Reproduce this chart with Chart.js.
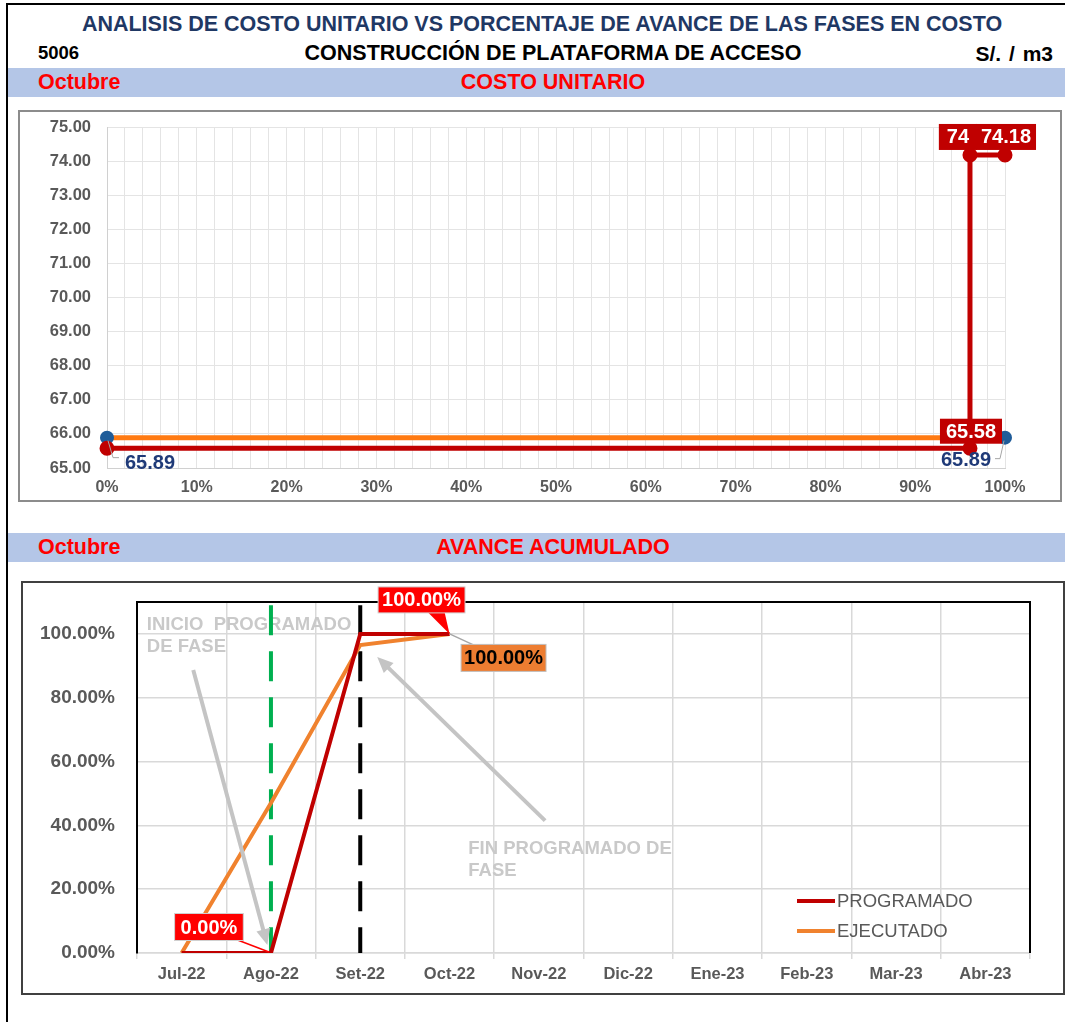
<!DOCTYPE html>
<html>
<head>
<meta charset="utf-8">
<script src="https://cdn.jsdelivr.net/npm/chart.js@4.4.0/dist/chart.umd.min.js"></script>
<style>
body{margin:0;width:1065px;height:1022px;position:relative;background:#fff;overflow:hidden;font-family:"Liberation Sans",Arial,sans-serif}
.t{position:absolute;font-weight:bold;white-space:nowrap;line-height:1}
.band{position:absolute;left:8px;width:1057px;height:29px;background:#B4C6E7}
.frame{position:absolute;left:6px;top:3px;width:1100px;height:1100px;border-left:2px solid #000;border-top:2px solid #000}
canvas{position:absolute}
</style>
</head>
<body>
<div class="frame"></div>
<div class="t" style="left:0;width:1084px;text-align:center;top:14px;font-size:21.5px;color:#1F3864">ANALISIS DE COSTO UNITARIO VS PORCENTAJE DE AVANCE DE LAS FASES EN COSTO</div>
<div class="t" style="left:38px;top:44px;font-size:18.5px;color:#000">5006</div>
<div class="t" style="left:0;width:1106px;text-align:center;top:43px;font-size:21.5px;color:#000">CONSTRUCCIÓN DE PLATAFORMA DE ACCESO</div>
<div class="t" style="right:12px;top:43px;font-size:21px;color:#000;word-spacing:2px">S/. / m3</div>
<div class="band" style="top:68px"></div>
<div class="t" style="left:38px;top:72px;font-size:21.5px;color:#FF0000">Octubre</div>
<div class="t" style="left:0;width:1106px;text-align:center;top:72px;font-size:21.5px;color:#FF0000">COSTO UNITARIO</div>
<div class="band" style="top:533px"></div>
<div class="t" style="left:38px;top:537px;font-size:21.5px;color:#FF0000">Octubre</div>
<div class="t" style="left:0;width:1106px;text-align:center;top:537px;font-size:21.5px;color:#FF0000">AVANCE ACUMULADO</div>

<canvas id="c1" width="1040" height="388" style="left:20px;top:112px;width:1040px;height:388px;outline:2px solid #8C8C8C"></canvas>
<canvas id="c2" width="1040" height="410" style="left:23px;top:583px;width:1040px;height:410px;outline:2px solid #404040"></canvas>

<script>
// ---- datos costo unitario
const avanceProg = [0, 0.961, 0.961, 1.0];
const costoProg = [65.58, 65.58, 74.18, 74.18];
const avanceEjec = [0, 1.0];
const costoEjec = [65.89, 65.89];

// ---- datos avance acumulado
const meses = ['Jul-22', 'Ago-22', 'Set-22', 'Oct-22', 'Nov-22', 'Dic-22', 'Ene-23', 'Feb-23', 'Mar-23', 'Abr-23'];
const programado = [0, 0, 1.0, 1.0, null, null, null, null, null, null];
const ejecutado = [0, 0.47, 0.965, 1.0, null, null, null, null, null, null];
const inicioFase = 'Ago-22';
const finFase = 'Set-22';

const GRIS = '#595959';
const F = '"Liberation Sans", Arial, sans-serif';

function caja(ctx, txt, cx, cy, font, bg, fg, h, pad, borde) {
  ctx.save();
  ctx.font = font;
  const w = ctx.measureText(txt).width + pad;
  if (bg) {
    ctx.fillStyle = bg;
    ctx.fillRect(cx - w / 2, cy - h / 2, w, h);
    if (borde) { ctx.strokeStyle = borde; ctx.lineWidth = 1; ctx.strokeRect(cx - w / 2, cy - h / 2, w, h); }
  }
  ctx.fillStyle = fg;
  ctx.textAlign = 'center';
  ctx.textBaseline = 'middle';
  ctx.fillText(txt, cx, cy + 1);
  ctx.restore();
}

function linea(ctx, pts, color, w) {
  ctx.save();
  ctx.strokeStyle = color; ctx.lineWidth = w;
  ctx.beginPath();
  pts.forEach((p, i) => i ? ctx.lineTo(p[0], p[1]) : ctx.moveTo(p[0], p[1]));
  ctx.stroke();
  ctx.restore();
}

function flecha(ctx, x0, y0, x1, y1) {
  const a = Math.atan2(y1 - y0, x1 - x0);
  const L = 16;
  ctx.save();
  ctx.strokeStyle = '#C4C4C4'; ctx.fillStyle = '#C4C4C4'; ctx.lineWidth = 4;
  ctx.beginPath(); ctx.moveTo(x0, y0);
  ctx.lineTo(x1 - Math.cos(a) * L * 0.8, y1 - Math.sin(a) * L * 0.8); ctx.stroke();
  ctx.beginPath();
  ctx.moveTo(x1, y1);
  ctx.lineTo(x1 - L * Math.cos(a) + 7 * Math.sin(a), y1 - L * Math.sin(a) - 7 * Math.cos(a));
  ctx.lineTo(x1 - L * Math.cos(a) - 7 * Math.sin(a), y1 - L * Math.sin(a) + 7 * Math.cos(a));
  ctx.closePath(); ctx.fill();
  ctx.restore();
}

// quita el relleno extra que chart.js deja por las etiquetas del eje
const sinRelleno = w => s => { s.width = w; s.paddingTop = 0; s.paddingBottom = 0; };

// ---------------- grafico 1
const etiquetas1 = {
  id: 'etiquetas1',
  afterDatasetsDraw(chart) {
    const ctx = chart.ctx;
    const p = chart.getDatasetMeta(0).data;
    const e = chart.getDatasetMeta(1).data;
    const fb = 'bold 20px ' + F;
    // guias grises
    linea(ctx, [[e[0].x + 1, e[0].y + 3], [e[0].x + 6, e[0].y + 20], [e[0].x + 12, e[0].y + 20]], '#A6A6A6', 1);
    linea(ctx, [[e[1].x - 1, e[1].y + 3], [e[1].x - 5, e[1].y + 21], [e[1].x - 10, e[1].y + 21]], '#A6A6A6', 1);
    caja(ctx, costoEjec[0].toFixed(2), e[0].x + 43, e[0].y + 25, fb, null, '#1F3A78', 26, 0);
    caja(ctx, costoEjec[1].toFixed(2), e[1].x - 39, e[1].y + 22, fb, null, '#1F3A78', 26, 0);
    caja(ctx, costoProg[1].toFixed(2), p[1].x + 1, p[1].y - 17, fb, '#C00000', '#fff', 25, 12);
    caja(ctx, Math.round(costoProg[2]).toString(), p[2].x - 12, p[2].y - 18, fb, '#C00000', '#fff', 26, 16);
    caja(ctx, costoProg[3].toFixed(2), p[3].x + 1, p[3].y - 18, fb, '#C00000', '#fff', 26, 10);
  }
};

new Chart(document.getElementById('c1'), {
  type: 'scatter',
  data: {
    datasets: [
      {
        label: 'PROGRAMADO',
        data: avanceProg.map((x, i) => ({ x, y: costoProg[i] })),
        showLine: true, borderColor: '#C00000', borderWidth: 5, clip: false,
        pointRadius: 5, pointBackgroundColor: '#C00000', pointBorderColor: '#C00000'
      },
      {
        label: 'EJECUTADO',
        data: avanceEjec.map((x, i) => ({ x, y: costoEjec[i] })),
        showLine: true, borderColor: '#FF7A12', borderWidth: 5, clip: false,
        pointRadius: 4.5, pointBackgroundColor: '#1F5C99', pointBorderColor: '#1F5C99'
      }
    ]
  },
  options: {
    animation: false, responsive: false,
    layout: { padding: { top: 15, right: 55, left: 0, bottom: 0 } },
    plugins: { legend: { display: false }, tooltip: { enabled: false } },
    scales: {
      x: {
        type: 'linear', min: 0, max: 1,
        afterFit: s => { s.height = 32; },
        grid: { color: '#E4E4E4', drawTicks: false },
        border: { color: '#D0D0D0' },
        ticks: {
          stepSize: 0.02, autoSkip: false, maxRotation: 0, padding: 10,
          color: GRIS, font: { family: F, size: 16, weight: 'bold' },
          callback: v => (Math.round(v * 100) % 10 === 0 ? Math.round(v * 100) + '%' : '')
        }
      },
      y: {
        min: 65, max: 75,
        afterFit: sinRelleno(87),
        grid: { color: '#E4E4E4', drawTicks: false },
        border: { color: '#D0D0D0' },
        ticks: {
          stepSize: 1, padding: 16, color: GRIS,
          font: { family: F, size: 16.5, weight: 'bold' },
          callback: v => v.toFixed(2)
        }
      }
    }
  },
  plugins: [etiquetas1]
});

// ---------------- grafico 2
const extras2 = {
  id: 'extras2',
  beforeDatasetsDraw(chart) {
    const ctx = chart.ctx, x = chart.scales.x, y = chart.scales.y;
    // textos de anotacion
    ctx.save();
    ctx.font = 'bold 18.5px ' + F;
    ctx.fillStyle = '#C9C9C9';
    ctx.textBaseline = 'middle';
    ctx.fillText('INICIO  PROGRAMADO', x.getPixelForValue(-0.39), y.getPixelForValue(1.028));
    ctx.fillText('DE FASE', x.getPixelForValue(-0.39), y.getPixelForValue(0.958));
    ctx.fillText('FIN PROGRAMADO DE', x.getPixelForValue(3.21), y.getPixelForValue(0.327));
    ctx.fillText('FASE', x.getPixelForValue(3.21), y.getPixelForValue(0.258));
    ctx.restore();
    // lineas de inicio y fin
    [[inicioFase, '#00B050'], [finFase, '#000000']].forEach(([m, c]) => {
      const px = x.getPixelForValue(meses.indexOf(m));
      ctx.save();
      ctx.strokeStyle = c; ctx.lineWidth = 4; ctx.setLineDash([30, 16]);
      ctx.beginPath();
      ctx.moveTo(px, y.getPixelForValue(1.09)); ctx.lineTo(px, y.getPixelForValue(0));
      ctx.stroke();
      ctx.restore();
    });
  },
  afterDatasetsDraw(chart) {
    const ctx = chart.ctx, x = chart.scales.x, y = chart.scales.y, a = chart.chartArea;
    // borde superior y derecho
    linea(ctx, [[a.left, a.top], [a.right, a.top], [a.right, a.bottom]], '#000', 2);
    // flechas
    flecha(ctx, x.getPixelForValue(0.13), y.getPixelForValue(0.887), x.getPixelForValue(0.96), y.getPixelForValue(0.025));
    flecha(ctx, x.getPixelForValue(4.07), y.getPixelForValue(0.415), x.getPixelForValue(2.19), y.getPixelForValue(0.928));
    // etiquetas
    const p = chart.getDatasetMeta(0).data;
    const e = chart.getDatasetMeta(1).data;
    const fb = 'bold 20px ' + F;
    const pct = v => (v * 100).toFixed(2) + '%';
    linea(ctx, [[p[1].x - 36, p[1].y - 14], [p[1].x - 2, p[1].y - 1]], '#FF0000', 1.5);
    caja(ctx, pct(programado[1]), p[1].x - 62, p[1].y - 26, fb, '#FF0000', '#fff', 27, 12, '#D0D0D0');
    // globo con punta
    ctx.save();
    ctx.fillStyle = '#FF0000';
    ctx.beginPath();
    ctx.moveTo(p[3].x - 22, p[3].y - 22); ctx.lineTo(p[3].x - 5, p[3].y - 22); ctx.lineTo(p[3].x, p[3].y);
    ctx.closePath(); ctx.fill();
    ctx.restore();
    caja(ctx, pct(programado[3]), p[3].x - 28, p[3].y - 34, fb, '#FF0000', '#fff', 26, 8, '#D0D0D0');
    linea(ctx, [[e[3].x, e[3].y], [e[3].x + 26, e[3].y + 12]], '#A6A6A6', 1.5);
    caja(ctx, pct(ejecutado[3]), e[3].x + 54, e[3].y + 24, fb, '#ED7D31', '#000', 27, 6, '#C0C0C0');
    // leyenda
    ctx.save();
    ctx.font = '18.5px ' + F;
    ctx.textBaseline = 'middle';
    chart.data.datasets.forEach((d, i) => {
      const ly = a.bottom - 52 + i * 30, lx = a.right - 233;
      linea(ctx, [[lx, ly], [lx + 38, ly]], d.borderColor, 4);
      ctx.fillStyle = GRIS;
      ctx.fillText(d.label, lx + 40, ly + 1);
    });
    ctx.restore();
  }
};

new Chart(document.getElementById('c2'), {
  type: 'line',
  data: {
    labels: meses,
    datasets: [
      { label: 'PROGRAMADO', data: programado, borderColor: '#C00000', borderWidth: 4, pointRadius: 0, tension: 0 },
      { label: 'EJECUTADO', data: ejecutado, borderColor: '#F0822E', borderWidth: 4, pointRadius: 0, tension: 0 }
    ]
  },
  options: {
    animation: false, responsive: false,
    layout: { padding: { top: 19, right: 33, left: 0, bottom: 0 } },
    plugins: { legend: { display: false }, tooltip: { enabled: false } },
    scales: {
      x: {
        offset: true,
        afterFit: s => { s.height = 40; },
        grid: { offset: true, color: '#D9D9D9', lineWidth: 1.5, tickLength: 6 },
        border: { color: '#D9D9D9', width: 1.5 },
        ticks: { padding: 6, maxRotation: 0, color: GRIS, font: { family: F, size: 16.5, weight: 'bold' } }
      },
      y: {
        min: 0, max: 1.1,
        afterBuildTicks: s => { s.ticks = s.ticks.filter(t => t.value <= 1.0001); },
        afterFit: sinRelleno(114),
        grid: { color: '#D9D9D9', lineWidth: 1.5, drawTicks: false },
        border: { color: '#000', width: 2 },
        ticks: {
          stepSize: 0.2, padding: 22, color: GRIS,
          font: { family: F, size: 19, weight: 'bold' },
          callback: v => (v * 100).toFixed(2) + '%'
        }
      }
    }
  },
  plugins: [extras2]
});
</script>
</body>
</html>
